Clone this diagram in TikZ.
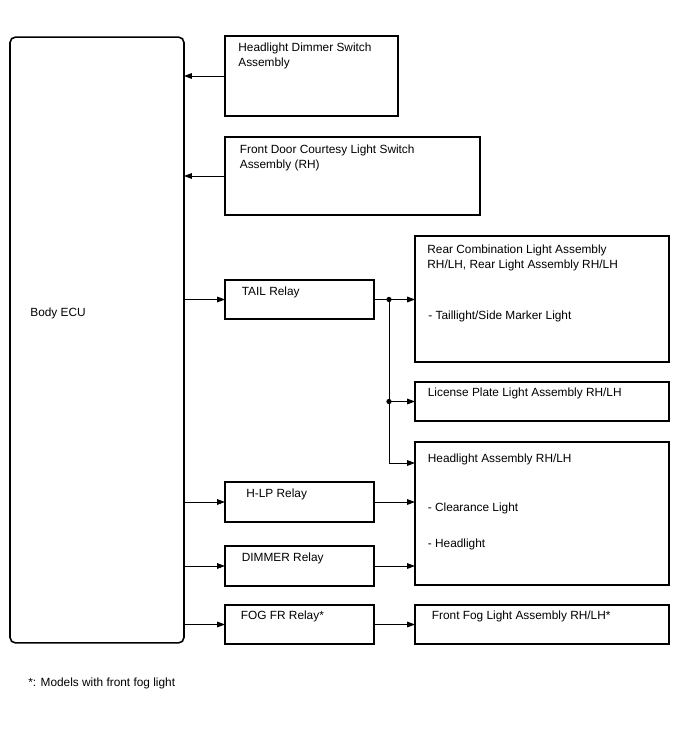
\documentclass[tikz,border=0pt]{standalone}
\usepackage{fontspec}
\setmainfont{Liberation Sans}
\usetikzlibrary{arrows.meta,positioning}

\begin{document}
\begin{tikzpicture}[
  x=0.02cm,y=-0.02cm,
  caixa/.style={draw,line width=0.9pt,inner sep=0pt,outer sep=0pt},
  texto/.style={anchor=north west,align=left,inner sep=0pt,font=\fontsize{6.75}{8.3}\selectfont},
  seta/.style={-{Triangle[length=4.5pt,width=3.2pt]},line width=0.55pt},
  ponto/.style={circle,fill,inner sep=0pt,minimum size=3pt}
]
\useasboundingbox (0,0) rectangle (688,755);

\node[caixa,rounded corners=0.11cm,minimum width=3.48cm,minimum height=12.12cm] (ecu) at (97,340) {};
\node[texto] (ecutxt) at (30,308) {Body ECU};

\node[caixa,minimum width=3.46cm,minimum height=1.6cm] (dimsw) at (311.5,76) {};
\node[texto] (dimswtxt) at ([shift={(13,7)}]dimsw.north west) {Headlight Dimmer Switch\\Assembly};

\node[caixa,minimum width=5.1cm,minimum height=1.56cm] (porta) at (352.5,176) {};
\node[texto] (portatxt) at ([shift={(14.5,8)}]porta.north west) {Front Door Courtesy Light Switch\\Assembly (RH)};

\node[caixa,minimum width=2.98cm,minimum height=0.78cm] (tail) at (299.5,299.5) {};
\node[texto] (tailtxt) at ([shift={(16.5,7)}]tail.north west) {TAIL Relay};

\node[caixa,minimum width=2.98cm,minimum height=0.8cm] (hlp) at (299.5,502) {};
\node[texto] (hlptxt) at ([shift={(21,7)}]hlp.north west) {H-LP Relay};

\node[caixa,minimum width=2.98cm,minimum height=0.8cm] (dimmer) at (299.5,566) {};
\node[texto] (dimmertxt) at ([shift={(16.5,7)}]dimmer.north west) {DIMMER Relay};

\node[caixa,minimum width=2.98cm,minimum height=0.78cm] (fog) at (299.5,624.5) {};
\node[texto] (fogtxt) at ([shift={(15.5,6)}]fog.north west) {FOG FR Relay*};

\node[caixa,minimum width=5.08cm,minimum height=2.52cm] (traseira) at (542,299) {};
\node[texto] (traseiratxt) at ([shift={(12,9)}]traseira.north west) {Rear Combination Light Assembly\\RH/LH, Rear Light Assembly RH/LH};
\node[texto] (lanterna) at ([shift={(13,75)}]traseira.north west) {- Taillight/Side Marker Light};

\node[caixa,minimum width=5.08cm,minimum height=0.78cm] (placa) at (542,401.5) {};
\node[texto] (placatxt) at ([shift={(12.5,6)}]placa.north west) {License Plate Light Assembly RH/LH};

\node[caixa,minimum width=5.08cm,minimum height=2.86cm] (farol) at (542,513.5) {};
\node[texto] (faroltxt) at ([shift={(12.5,12)}]farol.north west) {Headlight Assembly RH/LH};
\node[texto] (posicao) at ([shift={(12.5,61)}]farol.north west) {- Clearance Light};
\node[texto] (farolete) at ([shift={(12.5,97)}]farol.north west) {- Headlight};

\node[caixa,minimum width=5.08cm,minimum height=0.78cm] (neblina) at (542,624.5) {};
\node[texto] (neblinatxt) at ([shift={(16.5,6)}]neblina.north west) {Front Fog Light Assembly RH/LH*};

\node[texto] (nota) at (28,678) {*: Models with front fog light};

\draw[seta] (dimsw.west)--(dimsw.west -| ecu.east);
\draw[seta] (porta.west)--(porta.west -| ecu.east);
\draw[seta] (ecu.east |- tail.west)--(tail.west);
\draw[seta] (ecu.east |- hlp.west)--(hlp.west);
\draw[seta] (ecu.east |- dimmer.west)--(dimmer.west);
\draw[seta] (ecu.east |- fog.west)--(fog.west);

\coordinate (ramo) at ([xshift=0.3cm]tail.east);
\coordinate (entra) at ([yshift=-0.42cm]farol.north west);
\draw[seta] (tail.east)--(tail.east -| traseira.west);
\draw[seta] (ramo |- placa.west)--(placa.west);
\draw[seta] (ramo) |- (entra);
\node[ponto] (p1) at (ramo) {};
\node[ponto] (p2) at (ramo |- placa.west) {};
\draw[seta] (hlp.east)--(hlp.east -| farol.west);
\draw[seta] (dimmer.east)--(dimmer.east -| farol.west);
\draw[seta] (fog.east)--(neblina.west);
\end{tikzpicture}
\end{document}
